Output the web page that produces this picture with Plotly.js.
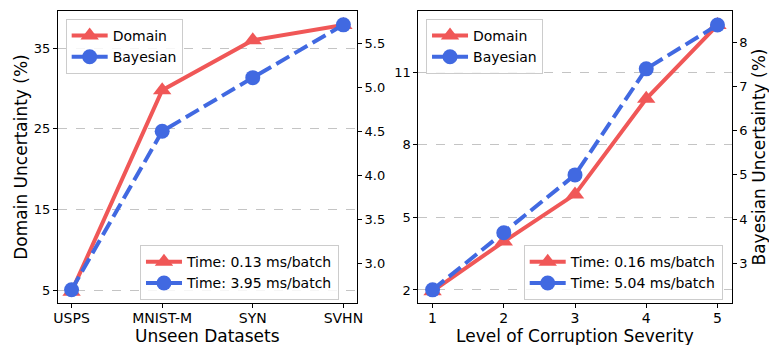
<!DOCTYPE html>
<html>
<head>
<meta charset="utf-8">
<script src="https://cdn.plot.ly/plotly-3.0.1.min.js"></script>
<style>html,body{margin:0;padding:0;background:#fff;}#chart{width:769px;height:345px;}</style>
</head>
<body>
<div id="chart"></div>
<script>
// Left panel: unseen datasets
const datasets = ["USPS", "MNIST-M", "SYN", "SVHN"];
const domainDatasets = [4.8, 29.8, 36.0, 37.9];
const bayesDatasets = [2.70, 4.50, 5.11, 5.71];
const timeLeftDomain = "Time: 0.13 ms/batch";
const timeLeftBayes = "Time: 3.95 ms/batch";

// Right panel: corruption severity
const severity = [1, 2, 3, 4, 5];
const domainSeverity = [1.95, 4.0, 5.95, 9.9, 12.95];
const bayesSeverity = [2.40, 3.69, 5.0, 7.40, 8.39];
const timeRightDomain = "Time: 0.16 ms/batch";
const timeRightBayes = "Time: 5.04 ms/batch";

const leftTicks = [5, 15, 25, 35];
const rightTicks = [2, 5, 8, 11];

const RED = "#F05757";
const BLUE = "#4169E1";
const FONT = "DejaVu Sans, Liberation Sans, sans-serif";

function domStyle() {
  return {mode: "lines+markers", line: {color: RED, width: 4},
          marker: {symbol: "triangle-up", size: 16, color: RED}};
}
function bayStyle() {
  return {mode: "lines+markers", line: {color: BLUE, width: 4, dash: "15px,6px"},
          marker: {symbol: "circle", size: 15, color: BLUE}};
}
function tr(base, extra) { return Object.assign(base, extra); }

const traces = [
  tr(domStyle(), {x: datasets, y: domainDatasets, xaxis: "x", yaxis: "y", name: "Domain", legend: "legend"}),
  tr(bayStyle(), {x: datasets, y: bayesDatasets, xaxis: "x", yaxis: "y2", name: "Bayesian", legend: "legend"}),
  tr(domStyle(), {x: [null], y: [null], xaxis: "x", yaxis: "y", name: timeLeftDomain, legend: "legend2"}),
  tr(bayStyle(), {x: [null], y: [null], xaxis: "x", yaxis: "y2", name: timeLeftBayes, legend: "legend2"}),
  tr(domStyle(), {x: severity, y: domainSeverity, xaxis: "x2", yaxis: "y3", name: "Domain", legend: "legend3"}),
  tr(bayStyle(), {x: severity, y: bayesSeverity, xaxis: "x2", yaxis: "y4", name: "Bayesian", legend: "legend3"}),
  tr(domStyle(), {x: [null], y: [null], xaxis: "x2", yaxis: "y3", name: timeRightDomain, legend: "legend4"}),
  tr(bayStyle(), {x: [null], y: [null], xaxis: "x2", yaxis: "y4", name: timeRightBayes, legend: "legend4"})
];

const yTickFont = {family: FONT, size: 13, color: "#000"};
const xTickFont = {family: FONT, size: 14, color: "#000"};
const titleFont = {family: FONT, size: 17, color: "#000"};
const yDom = [0.1217, 0.9681];
const axBase = {showline: true, linecolor: "#000", linewidth: 1, ticks: "outside", ticklen: 4,
                tickcolor: "#000", tickfont: yTickFont, zeroline: false};
const legBase = {bgcolor: "rgba(255,255,255,0.85)", bordercolor: "#cccccc", borderwidth: 1,
                 font: {family: FONT, size: 14, color: "#000"}, itemwidth: 36, tracegroupgap: 0};

const layout = {
  width: 769, height: 345,
  margin: {l: 0, r: 0, t: 0, b: 0},
  paper_bgcolor: "#fff", plot_bgcolor: "#fff",
  font: {family: FONT},
  xaxis: Object.assign({}, axBase, {domain: [0.0754, 0.4642], anchor: "y", type: "category",
          range: [-0.15, 3.15], mirror: true, showgrid: false, tickfont: xTickFont, ticklabelstandoff: -2}),
  yaxis: Object.assign({}, axBase, {domain: yDom, anchor: "x", range: [3.39, 39.63], tickvals: leftTicks,
          showgrid: true, gridcolor: "#c4c4c4", griddash: "dash", gridwidth: 1,
          title: {text: "Domain Uncertainty (%)", font: titleFont, standoff: 1}}),
  yaxis2: Object.assign({}, axBase, {overlaying: "y", side: "right", anchor: "x", range: [2.549, 5.867],
          dtick: 0.5, tick0: 0, tickformat: ".1f", showgrid: false}),
  xaxis2: Object.assign({}, axBase, {domain: [0.544, 0.9515], anchor: "y3", range: [0.8, 5.2],
          dtick: 1, tick0: 0, mirror: true, showgrid: false, tickfont: xTickFont, ticklabelstandoff: -2}),
  yaxis3: Object.assign({}, axBase, {domain: yDom, anchor: "x2", range: [1.46, 13.53], tickvals: rightTicks,
          showgrid: true, gridcolor: "#c4c4c4", griddash: "dash", gridwidth: 1}),
  yaxis4: Object.assign({}, axBase, {overlaying: "y3", side: "right", anchor: "x2", range: [2.102, 8.708],
          dtick: 1, tick0: 0, showgrid: false,
          title: {text: "Bayesian Uncertainty (%)", font: titleFont, standoff: 6}}),
  legend: Object.assign({}, legBase, {x: 0.0854, y: 0.945, xanchor: "left", yanchor: "top"}),
  legend2: Object.assign({}, legBase, {x: 0.4408, y: 0.13, xanchor: "right", yanchor: "bottom"}),
  legend3: Object.assign({}, legBase, {x: 0.554, y: 0.945, xanchor: "left", yanchor: "top"}),
  legend4: Object.assign({}, legBase, {x: 0.9398, y: 0.13, xanchor: "right", yanchor: "bottom"}),
  annotations: [
    {text: "Unseen Datasets", xref: "paper", yref: "paper", x: 0.2698, y: 0, xanchor: "center",
     yanchor: "bottom", yshift: -3, showarrow: false, font: titleFont},
    {text: "Level of Corruption Severity", xref: "paper", yref: "paper", x: 0.7478, y: 0, xanchor: "center",
     yanchor: "bottom", yshift: -3, showarrow: false, font: titleFont}
  ],
  showlegend: true
};

Plotly.newPlot("chart", traces, layout, {displayModeBar: false, staticPlot: true});
</script>
</body>
</html>
